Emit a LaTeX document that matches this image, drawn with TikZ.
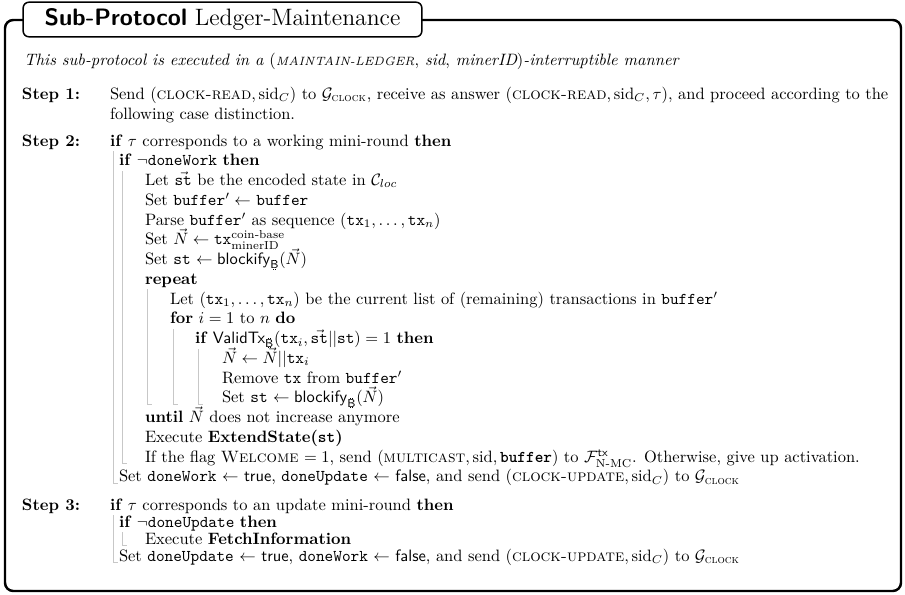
\documentclass[tikz,border=0pt]{standalone}
\usepackage{amsmath}
\usepackage{fontspec}

% Bitcoin-style sans B used as a subscript
\newcommand{\btcsym}{\mbox{\sffamily\setbox0\hbox{B}%
  \rlap{\kern0.3\wd0\rule[\ht0]{0.05em}{0.14\ht0}}%
  \rlap{\kern0.3\wd0\rule[-0.14\ht0]{0.05em}{0.14\ht0}}%
  \rlap{\kern0.55\wd0\rule[\ht0]{0.05em}{0.14\ht0}}%
  \rlap{\kern0.55\wd0\rule[-0.14\ht0]{0.05em}{0.14\ht0}}%
  \box0}}
% italic small capitals, set from reduced capitals
\newcommand{\itsc}[1]{{\fontsize{7.3pt}{8pt}\selectfont\itshape #1}}
\newcommand{\clk}{\mathcal{G}_{\text{\textsc{clock}}}}
\newcommand{\sidc}{\mathrm{sid}_C}
\newcommand{\kw}[1]{\textbf{#1}}

\begin{document}
\begin{tikzpicture}[x=0.607pt,y=-0.607pt,
  txt/.style={anchor=base west,inner sep=0pt,outer sep=0pt,font=\fontsize{10pt}{12pt}\selectfont},
  steplbl/.style={txt,font=\fontsize{10pt}{12pt}\selectfont\bfseries},
  frame/.style={line width=1.5pt,rounded corners=5pt},
  titlebox/.style={draw,line width=0.9pt,rounded corners=3.5pt,fill=white,
    minimum width=242pt,minimum height=21pt,inner sep=0pt},
  vbar/.style={draw=black!22,line width=0.55pt}]
\useasboundingbox (0,0) rectangle (905,594);

% outer frame and heading
\draw[frame] (5,20) rectangle (901,591);
\node[titlebox] (title) at (222.5,19.5)
  {\fontsize{14.4pt}{17pt}\selectfont\textsf{\bfseries Sub-Protocol} Ledger-Maintenance};

% preamble sentence
\node[txt] (intro) at (24,65) {\itshape This sub-protocol is executed in a
  $($\itsc{MAINTAIN-LEDGER}$,$ sid$,$ minerID$)$-interruptible manner};

% Step 1
\node[steplbl] (s1) at (22,99.5) {Step 1:};
\node[txt] (s1a) at (110,99.5) {Send $(\text{\textsc{clock-read}}, \sidc)$ to $\clk$, receive as answer $(\text{\textsc{clock-read}}, \sidc, \tau)$, and proceed according to the};
\node[txt] (s1b) at (110,119.3) {following case distinction.};

% Step 2
\node[steplbl] (s2) at (22,146) {Step 2:};
\node[txt] (a0) at (110,146) {\kw{if} $\tau$ corresponds to a working mini-round \kw{then}};
\node[txt] (a1) at (119,165.8) {\kw{if} $\neg$\texttt{doneWork} \kw{then}};
\node[txt] (a2) at (145,185.5) {Let $\vec{\texttt{st}}$ be the encoded state in $\mathcal{C}_{loc}$};
\node[txt] (a3) at (145,205.3) {Set \texttt{buffer}$'\gets$ \texttt{buffer}};
\node[txt] (a4) at (145,225) {Parse \texttt{buffer}$'$ as sequence $(\texttt{tx}_1,\ldots,\texttt{tx}_n)$};
\node[txt] (a5) at (145,244.8) {Set $\vec{N}\gets\texttt{tx}^{\text{coin-base}}_{\text{minerID}}$};
\node[txt] (a6) at (145,264.6) {Set \texttt{st} $\gets\textsf{blockify}_{\text{\btcsym}}(\vec{N})$};
\node[txt] (a7) at (145,284.3) {\kw{repeat}};
\node[txt] (a8) at (170,304.1) {Let $(\texttt{tx}_1,\ldots,\texttt{tx}_n)$ be the current list of (remaining) transactions in \texttt{buffer}$'$};
\node[txt] (a9) at (170,323.8) {\kw{for} $i=1$ to $n$ \kw{do}};
\node[txt] (a10) at (195,343.6) {\kw{if} $\textsf{ValidTx}_{\text{\btcsym}}(\texttt{tx}_i,\vec{\texttt{st}}||\texttt{st})=1$ \kw{then}};
\node[txt] (a11) at (222,363.4) {$\vec{N}\gets\vec{N}||\texttt{tx}_i$};
\node[txt] (a12) at (222,383.1) {Remove \texttt{tx} from \texttt{buffer}$'$};
\node[txt] (a13) at (222,402.9) {Set \texttt{st} $\gets\textsf{blockify}_{\text{\btcsym}}(\vec{N})$};
\node[txt] (a14) at (145,422.6) {\kw{until} $\vec{N}$ does not increase anymore};
\node[txt] (a15) at (145,442.4) {Execute \kw{ExtendState(\texttt{st})}};
\node[txt] (a16) at (145,462.2) {If the flag \textsc{Welcome} $=1$, send $(\text{\textsc{multicast}},\mathrm{sid},\text{\texttt{\bfseries buffer}})$ to $\mathcal{F}^{\textsf{tx}}_{\text{N-MC}}$. Otherwise, give up activation.};
\node[txt] (a17) at (119,481.9) {Set \texttt{doneWork} $\gets$ \textsf{true}, \texttt{doneUpdate} $\gets$ \textsf{false}, and send $(\text{\textsc{clock-update}},\sidc)$ to $\clk$};

% Step 3
\node[steplbl] (s3) at (22,510) {Step 3:};
\node[txt] (b0) at (110,510) {\kw{if} $\tau$ corresponds to an update mini-round \kw{then}};
\node[txt] (b1) at (119,527) {\kw{if} $\neg$\texttt{doneUpdate} \kw{then}};
\node[txt] (b2) at (145,544) {Execute \kw{FetchInformation}};
\node[txt] (b3) at (119,561) {Set \texttt{doneUpdate} $\gets$ \textsf{true}, \texttt{doneWork} $\gets$ \textsf{false}, and send $(\text{\textsc{clock-update}},\sidc)$ to $\clk$};

% block rules of the algorithm
\draw[vbar] (113,151) |- (118,483);
\draw[vbar] (122,171) |- (127,463.5);
\draw[vbar] (147,289) |- (152,404);
\draw[vbar] (173,329) |- (178,404);
\draw[vbar] (198,349) |- (203,404);
\draw[vbar] (113,515) |- (118,562.3);
\draw[vbar] (122,532) |- (127,545.3);
\end{tikzpicture}
\end{document}
